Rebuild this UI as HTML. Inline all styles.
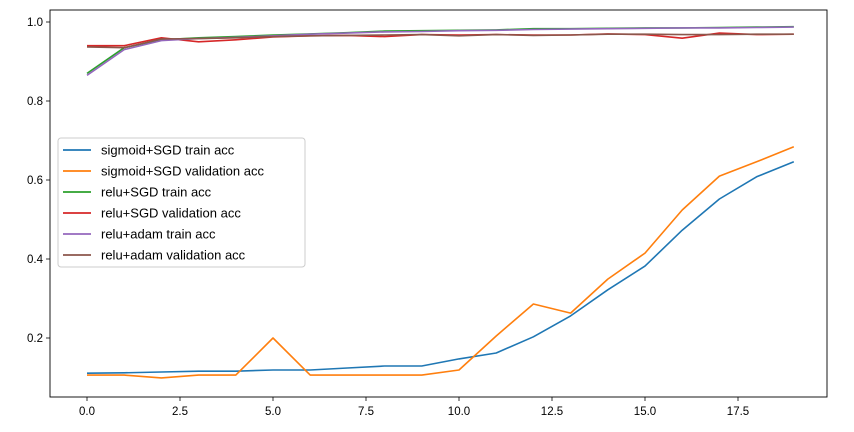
<!DOCTYPE html>
<html><head><meta charset="utf-8"><style>
body{margin:0;background:#fff;}
svg{display:block;font-family:"Liberation Sans","DejaVu Sans",sans-serif;}
</style></head><body>
<svg id="chart" width="854" height="432" viewBox="0 0 854 432"></svg>
<script>
const epochs=[0,1,2,3,4,5,6,7,8,9,10,11,12,13,14,15,16,17,18,19];
const sigTrain=[0.111,0.112,0.114,0.116,0.116,0.119,0.119,0.124,0.129,0.129,0.147,0.162,0.203,0.256,0.322,0.382,0.473,0.552,0.608,0.646];
const sigVal=[0.106,0.106,0.099,0.106,0.106,0.200,0.106,0.106,0.106,0.106,0.119,0.205,0.286,0.263,0.349,0.415,0.524,0.610,0.646,0.684];
const reluSgdTrain=[0.870,0.935,0.955,0.960,0.963,0.967,0.970,0.973,0.977,0.978,0.979,0.980,0.983,0.983,0.984,0.985,0.985,0.986,0.987,0.988];
const reluSgdVal=[0.940,0.940,0.960,0.950,0.955,0.962,0.965,0.966,0.963,0.968,0.967,0.968,0.967,0.967,0.970,0.968,0.959,0.972,0.968,0.969];
const reluAdamTrain=[0.865,0.930,0.953,0.958,0.961,0.965,0.969,0.972,0.975,0.976,0.978,0.979,0.981,0.982,0.983,0.984,0.985,0.985,0.986,0.987];
const reluAdamVal=[0.937,0.935,0.957,0.958,0.960,0.963,0.965,0.966,0.967,0.968,0.965,0.968,0.966,0.967,0.969,0.969,0.968,0.968,0.969,0.969];
const xTicks=[0,2.5,5,7.5,10,12.5,15,17.5];
const xTickLabels=["0.0","2.5","5.0","7.5","10.0","12.5","15.0","17.5"];
const yTicks=[0.2,0.4,0.6,0.8,1.0];
const yTickLabels=["0.2","0.4","0.6","0.8","1.0"];
const seriesNames=["sigmoid+SGD train acc","sigmoid+SGD validation acc","relu+SGD train acc","relu+SGD validation acc","relu+adam train acc","relu+adam validation acc"];
const colors=["#1f77b4","#ff7f0e","#2ca02c","#d62728","#9467bd","#8c564b"];
const series=[sigTrain,sigVal,reluSgdTrain,reluSgdVal,reluAdamTrain,reluAdamVal];

const NS="http://www.w3.org/2000/svg";
const svg=document.getElementById('chart');
const L=50,R=827,T=10,B=397;
const xs=v=>87+v*(738-87)/17.5;
const ys=v=>417-v*395;
function mk(tag,attrs,parent){const e=document.createElementNS(NS,tag);for(const k in attrs)e.setAttribute(k,attrs[k]);(parent||svg).appendChild(e);return e;}

for(let s=0;s<series.length;s++){
  const pts=series[s].map((v,i)=>xs(epochs[i]).toFixed(1)+","+ys(v).toFixed(1)).join(" ");
  const pl=mk('polyline',{points:pts,fill:'none',stroke:colors[s],'stroke-width':1.6,'stroke-linejoin':'round'});
  
  
}
const frame=mk('rect',{x:L,y:T,width:R-L,height:B-T,fill:'none',stroke:'#000','stroke-width':0.9});



xTicks.forEach((t,i)=>{
  const x=xs(t);
  mk('line',{x1:x,x2:x,y1:B,y2:B+4,stroke:'#000','stroke-width':0.8});
  const tx=mk('text',{x:x,y:B+18,'text-anchor':'middle','font-size':11.5,fill:'#000'});
  tx.textContent=xTickLabels[i];
  
  
});
yTicks.forEach((t,i)=>{
  const y=ys(t);
  mk('line',{x1:L-4,x2:L,y1:y,y2:y,stroke:'#000','stroke-width':0.8});
  const tx=mk('text',{x:L-7,y:y+4,'text-anchor':'end','font-size':11.5,fill:'#000'});
  tx.textContent=yTickLabels[i];
  
  
});

const lg=mk('g',{});


mk('rect',{x:58,y:138,width:247,height:129,rx:3,fill:'#fff','fill-opacity':0.85,stroke:'#ccc','stroke-width':1},lg);
seriesNames.forEach((n,i)=>{
  const y=150+i*21;
  const g=mk('g',{},lg);
  
  
  mk('line',{x1:63,x2:91,y1:y,y2:y,stroke:colors[i],'stroke-width':1.8},g);
  const tx=mk('text',{x:101,y:y+4.5,'font-size':13,fill:'#000'},g);
  tx.textContent=n;
});
</script>
</body></html>
